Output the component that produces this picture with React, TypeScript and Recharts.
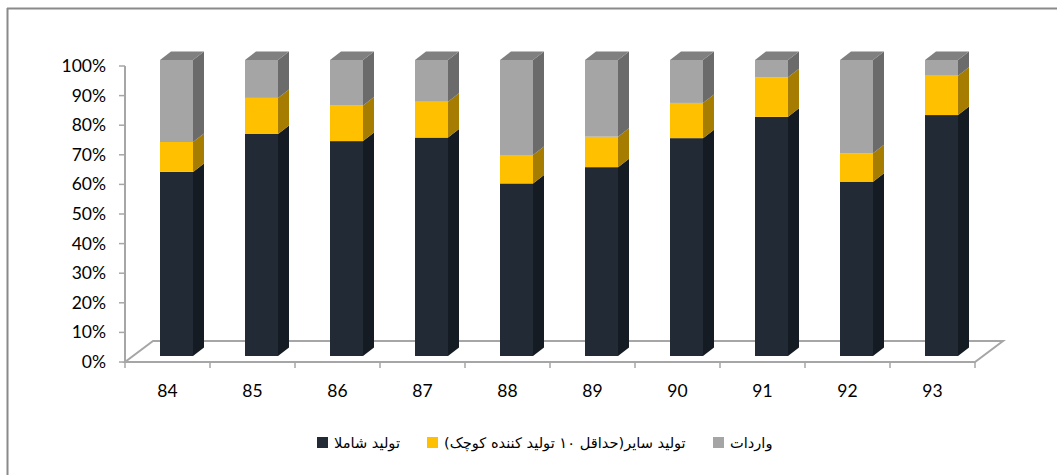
import React from 'react';
import { BarChart, Bar, XAxis, YAxis } from 'recharts';

// years (Persian calendar, short form)
const years = ['84', '85', '86', '87', '88', '89', '90', '91', '92', '93'];

// share of each source, percent
const shamla = [62.2, 75.0, 72.6, 73.8, 58.3, 63.8, 73.6, 80.8, 58.9, 81.4];
const others = [10.1, 12.2, 12.0, 12.1, 9.6, 10.3, 11.9, 13.4, 9.6, 13.3];
const imports = [27.7, 12.8, 15.4, 14.1, 32.1, 25.9, 14.5, 5.8, 31.5, 5.3];

const yTicks = [0, 10, 20, 30, 40, 50, 60, 70, 80, 90, 100];

const LABELS = {
  shamla: 'تولید شاملا',
  others: 'تولید سایر(حداقل ۱۰ تولید کننده کوچک)',
  imports: 'واردات',
};

const W = 1057;
const H = 475;
const PLOT_L = 125;
const PLOT_R = 975;
const PLOT_T = 60;
const PLOT_B = 356;
const BAND = (PLOT_R - PLOT_L) / years.length;

// 3D look
const DX = 11; // bar depth, x
const DY = 8.5; // bar depth, y
const SHIFT = 9; // front face sits a bit behind the floor edge
const FLOOR_FRONT = PLOT_B + 6;
const FLOOR_DX = 28;
const FLOOR_DY = 21;
const AXIS_GREY = '#a6a6a6';

const COLORS = {
  shamla: { front: '#222a35', side: '#151b23' },
  others: { front: '#ffc000', side: '#a67d00' },
  imports: { front: '#a5a5a5', side: '#6b6b6b', top: '#808080' },
};

const data = years.map((y, i) => ({
  year: y,
  shamla: shamla[i],
  others: others[i],
  imports: imports[i],
}));

function make3D(c: { front: string; side: string; top?: string }) {
  return (props: any) => {
    const { x, y, width, height } = props;
    if (!height || height <= 0) return <g />;
    const x0 = x + SHIFT;
    const x1 = x0 + width;
    return (
      <g>
        <rect x={x0} y={y} width={width} height={height} fill={c.front} />
        <path
          d={`M${x1},${y} L${x1 + DX},${y - DY} L${x1 + DX},${y + height - DY} L${x1},${y + height} Z`}
          fill={c.side}
        />
        {c.top && (
          <path
            d={`M${x0},${y} L${x0 + DX},${y - DY} L${x1 + DX},${y - DY} L${x1},${y} Z`}
            fill={c.top}
          />
        )}
      </g>
    );
  };
}

function YTick(props: any) {
  const { y, payload } = props;
  const yy = y + 6;
  return (
    <g>
      <line x1={PLOT_L - 6} x2={PLOT_L} y1={yy} y2={yy} stroke={AXIS_GREY} strokeWidth={1.5} />
      <text
        x={PLOT_L - 19}
        y={yy}
        dy={6}
        textAnchor="end"
        fontFamily="Lato, 'Open Sans', sans-serif"
        fontSize={17.5}
        fill="#000"
      >
        {`${payload.value}%`}
      </text>
    </g>
  );
}

function XTick(props: any) {
  const { x, payload, index } = props;
  const left = x - BAND / 2;
  const right = x + BAND / 2;
  return (
    <g>
      <line x1={left} x2={left} y1={FLOOR_FRONT} y2={FLOOR_FRONT + 6} stroke={AXIS_GREY} strokeWidth={1.5} />
      {index === years.length - 1 && (
        <line x1={right} x2={right} y1={FLOOR_FRONT} y2={FLOOR_FRONT + 6} stroke={AXIS_GREY} strokeWidth={1.5} />
      )}
      <text
        x={x}
        y={FLOOR_FRONT + 35}
        textAnchor="middle"
        fontFamily="Lato, 'Open Sans', sans-serif"
        fontSize={17.5}
        fill="#000"
      >
        {payload.value}
      </text>
    </g>
  );
}

function LegendItem({ left, color, text }: { left: number; color: string; text: string }) {
  return (
    <div style={{ position: 'absolute', left, top: 434, display: 'flex', alignItems: 'center' }}>
      <div style={{ width: 11, height: 11, background: color, marginRight: 6 }} />
      <span
        dir="rtl"
        style={{ fontFamily: "'DejaVu Sans', sans-serif", fontSize: 14.6, color: '#000', whiteSpace: 'nowrap' }}
      >
        {text}
      </span>
    </div>
  );
}

export default function App() {
  const floor = `M${PLOT_L},${FLOOR_FRONT} L${PLOT_R},${FLOOR_FRONT} L${PLOT_R + FLOOR_DX},${FLOOR_FRONT - FLOOR_DY} L${PLOT_L + FLOOR_DX},${FLOOR_FRONT - FLOOR_DY} Z`;
  return (
    <div style={{ position: 'fixed', left: 0, top: 0, width: W, height: H, background: '#fff' }}>
      <svg width={W} height={H} style={{ position: 'absolute', left: 0, top: 0 }}>
        <line x1={7} x2={W} y1={8.5} y2={8.5} stroke="#8a8a8a" strokeWidth={2} />
        <line x1={7.5} x2={7.5} y1={8} y2={H} stroke="#8a8a8a" strokeWidth={2} />
        <path d={floor} fill="#fff" stroke={AXIS_GREY} strokeWidth={2} />
        <line x1={PLOT_L} x2={PLOT_L} y1={FLOOR_FRONT} y2={PLOT_T + 6} stroke={AXIS_GREY} strokeWidth={2} />
      </svg>
      <div style={{ position: 'absolute', left: 0, top: 0 }}>
        <BarChart
          width={W}
          height={H}
          data={data}
          margin={{ top: PLOT_T, right: W - PLOT_R, bottom: H - PLOT_B - 40, left: PLOT_L - 50 }}
          barSize={33}
        >
          <XAxis
            dataKey="year"
            height={40}
            axisLine={false}
            tickLine={false}
            tick={<XTick />}
            interval={0}
          />
          <YAxis
            width={50}
            domain={[0, 100]}
            ticks={yTicks}
            axisLine={false}
            tickLine={false}
            tick={<YTick />}
            interval={0}
          />
          <Bar dataKey="shamla" stackId="a" isAnimationActive={false} shape={make3D(COLORS.shamla)} />
          <Bar dataKey="others" stackId="a" isAnimationActive={false} shape={make3D(COLORS.others)} />
          <Bar dataKey="imports" stackId="a" isAnimationActive={false} shape={make3D(COLORS.imports)} />
        </BarChart>
      </div>
      <LegendItem left={317} color={COLORS.shamla.front} text={LABELS.shamla} />
      <LegendItem left={427} color={COLORS.others.front} text={LABELS.others} />
      <LegendItem left={713} color={COLORS.imports.front} text={LABELS.imports} />
    </div>
  );
}
